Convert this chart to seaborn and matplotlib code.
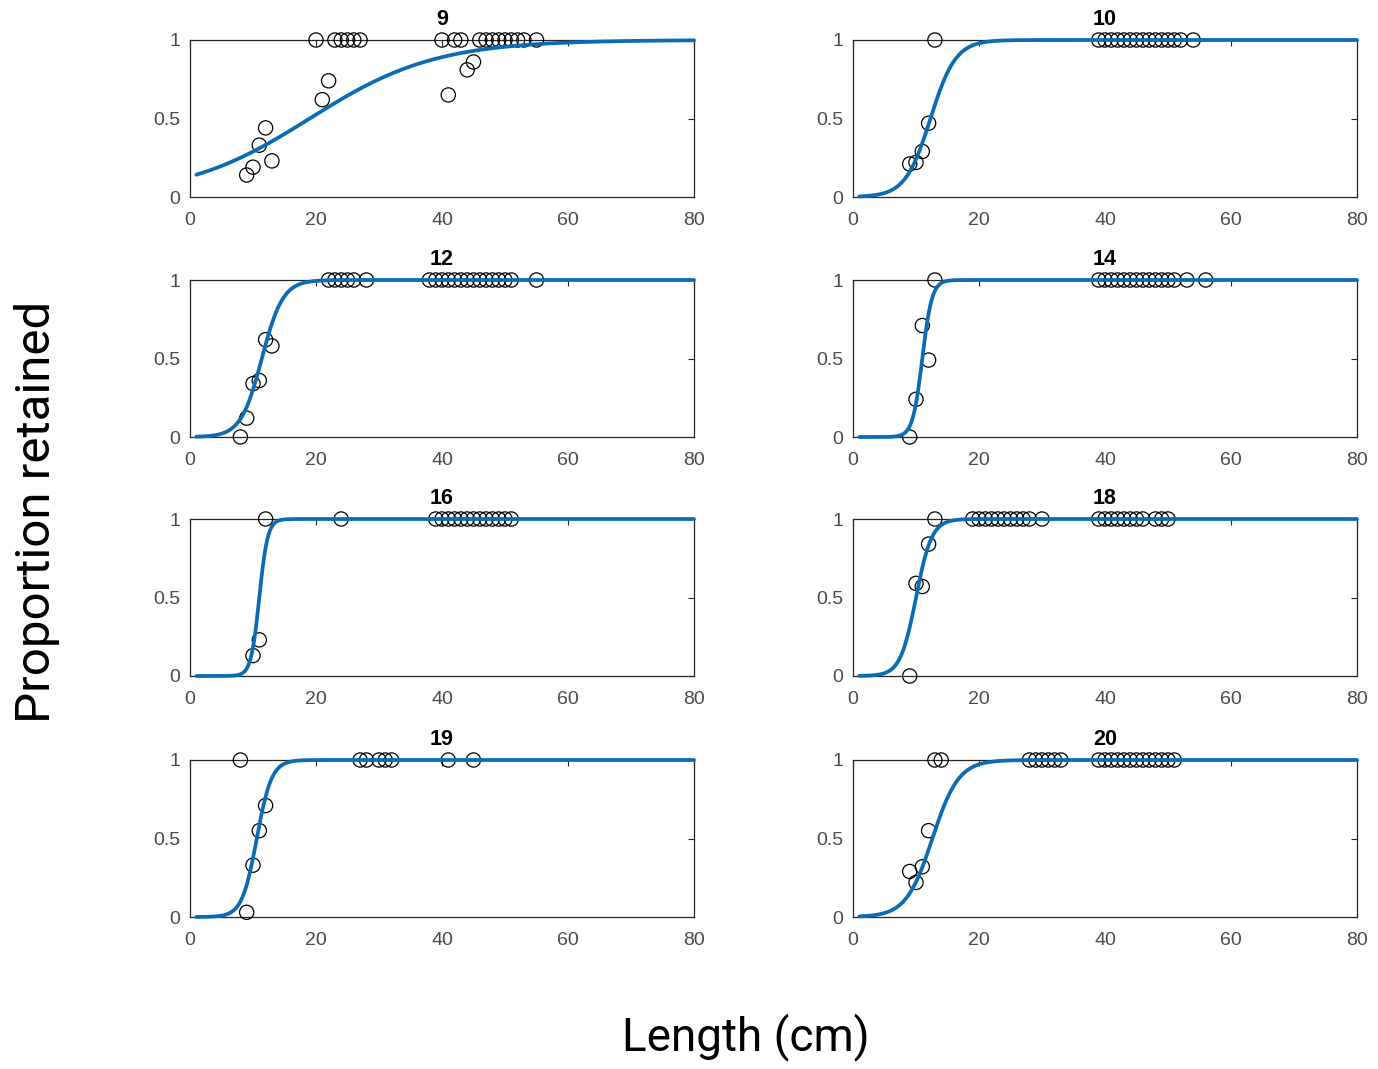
import numpy as np
import pandas as pd
import matplotlib
matplotlib.use("Agg")
import matplotlib.pyplot as plt
import seaborn as sns

# ---------------- data ----------------
panel_titles = ["9", "10", "12", "14", "16", "18", "19", "20"]

len_9 = [9, 10, 11, 12, 13, 21, 22, 41, 44, 45,
         20, 23, 24, 25, 26, 27, 40, 42, 43, 46, 47, 48, 49, 50, 51, 52, 53, 55]
prop_9 = [0.14, 0.19, 0.33, 0.44, 0.23, 0.62, 0.74, 0.65, 0.81, 0.86,
          1, 1, 1, 1, 1, 1, 1, 1, 1, 1, 1, 1, 1, 1, 1, 1, 1, 1]

len_10 = [9, 10, 11, 12, 13, 39, 40, 41, 42, 43, 44, 45, 46, 47, 48, 49, 50, 51, 52, 54]
prop_10 = [0.21, 0.22, 0.29, 0.47, 1, 1, 1, 1, 1, 1, 1, 1, 1, 1, 1, 1, 1, 1, 1, 1]

len_12 = [8, 9, 10, 11, 12, 13, 22, 23, 24, 25, 26, 28,
          38, 39, 40, 41, 42, 43, 44, 45, 46, 47, 48, 49, 50, 51, 55]
prop_12 = [0.0, 0.12, 0.34, 0.36, 0.62, 0.58, 1, 1, 1, 1, 1, 1,
           1, 1, 1, 1, 1, 1, 1, 1, 1, 1, 1, 1, 1, 1, 1]

len_14 = [9, 10, 11, 12, 13, 39, 40, 41, 42, 43, 44, 45, 46, 47, 48, 49, 50, 51, 53, 56]
prop_14 = [0.0, 0.24, 0.71, 0.49, 1, 1, 1, 1, 1, 1, 1, 1, 1, 1, 1, 1, 1, 1, 1, 1]

len_16 = [10, 11, 12, 24, 39, 40, 41, 42, 43, 44, 45, 46, 47, 48, 49, 50, 51]
prop_16 = [0.13, 0.23, 1, 1, 1, 1, 1, 1, 1, 1, 1, 1, 1, 1, 1, 1, 1]

len_18 = [9, 10, 11, 12, 13, 19, 20, 21, 22, 23, 24, 25, 26, 27, 28, 30,
          39, 40, 41, 42, 43, 44, 45, 46, 48, 49, 50]
prop_18 = [0.0, 0.59, 0.57, 0.84, 1, 1, 1, 1, 1, 1, 1, 1, 1, 1, 1, 1,
           1, 1, 1, 1, 1, 1, 1, 1, 1, 1, 1]

len_19 = [8, 9, 10, 11, 12, 27, 28, 30, 31, 32, 41, 45]
prop_19 = [1, 0.03, 0.33, 0.55, 0.71, 1, 1, 1, 1, 1, 1, 1]

len_20 = [9, 10, 11, 12, 13, 14, 28, 29, 30, 31, 32, 33,
          39, 40, 41, 42, 43, 44, 45, 46, 47, 48, 49, 50, 51]
prop_20 = [0.29, 0.22, 0.32, 0.55, 1, 1, 1, 1, 1, 1, 1, 1,
           1, 1, 1, 1, 1, 1, 1, 1, 1, 1, 1, 1, 1]

# fitted logistic selectivity parameters (L50, slope) per panel
l50 = [19.0, 12.3, 11.4, 11.0, 11.0, 10.0, 10.6, 12.6]
slope = [0.10, 0.50, 0.60, 1.30, 1.50, 0.80, 0.85, 0.48]

lengths = [len_9, len_10, len_12, len_14, len_16, len_18, len_19, len_20]
props = [prop_9, prop_10, prop_12, prop_14, prop_16, prop_18, prop_19, prop_20]

x_ticks = [0, 20, 40, 60, 80]
y_ticks = [0, 0.5, 1]
y_ticklabels = ["0", "0.5", "1"]

# ---------------- style ----------------
sns.set_style("white")
plt.rcParams["font.family"] = ["Liberation Sans", "DejaVu Sans"]

W, H = 1378, 1069
fig = plt.figure(figsize=(W / 100, H / 100), dpi=100)

col_left = [190, 853]
ax_w = 504
row_top = [40, 280, 519, 760]
ax_h = 157

line_color = "#0b6cb3"
tick_color = "#4a4a4a"

x_curve = np.linspace(1, 80, 400)

for i, title in enumerate(panel_titles):
    r, c = divmod(i, 2)
    left = col_left[c] / W
    bottom = 1 - (row_top[r] + ax_h) / H
    ax = fig.add_axes([left, bottom, ax_w / W, ax_h / H])

    df_pts = pd.DataFrame({"length": lengths[i], "prop": props[i]})
    y_curve = 1.0 / (1.0 + np.exp(-slope[i] * (x_curve - l50[i])))
    df_curve = pd.DataFrame({"length": x_curve, "prop": y_curve})

    sns.scatterplot(data=df_pts, x="length", y="prop", ax=ax, marker="o",
                    s=105, facecolor="none", edgecolor="black", linewidth=0.9,
                    clip_on=False, zorder=3)
    sns.lineplot(data=df_curve, x="length", y="prop", ax=ax, color=line_color,
                 linewidth=2.7, zorder=4, clip_on=False)

    ax.set_xlim(0, 80)
    ax.set_ylim(0, 1)
    ax.set_xticks(x_ticks)
    ax.set_yticks(y_ticks)
    ax.set_yticklabels(y_ticklabels)
    ax.set_xlabel("")
    ax.set_ylabel("")
    ax.tick_params(direction="in", length=4, width=0.8, top=True, right=True,
                   labelsize=14, labelcolor=tick_color, color="#262626")
    ax.tick_params(axis="x", pad=11)
    ax.tick_params(axis="y", pad=7)
    for sp in ax.spines.values():
        sp.set_visible(True)
        sp.set_color("#262626")
        sp.set_linewidth(0.9)
    ax.set_title(title, fontsize=15.5, fontweight="bold", pad=11, color="black")
    ax.set_facecolor("white")

fig.text(746 / W, 1 - 1037 / H, "Length (cm)", ha="center", va="center",
         fontsize=33, color="black", family=["Roboto", "DejaVu Sans"])
fig.text(37 / W, 1 - 512 / H, "Proportion retained", ha="center", va="center",
         rotation=90, fontsize=35.5, color="black",
         family=["Roboto", "DejaVu Sans"])

fig.savefig("out.png", dpi=100, facecolor="white")
